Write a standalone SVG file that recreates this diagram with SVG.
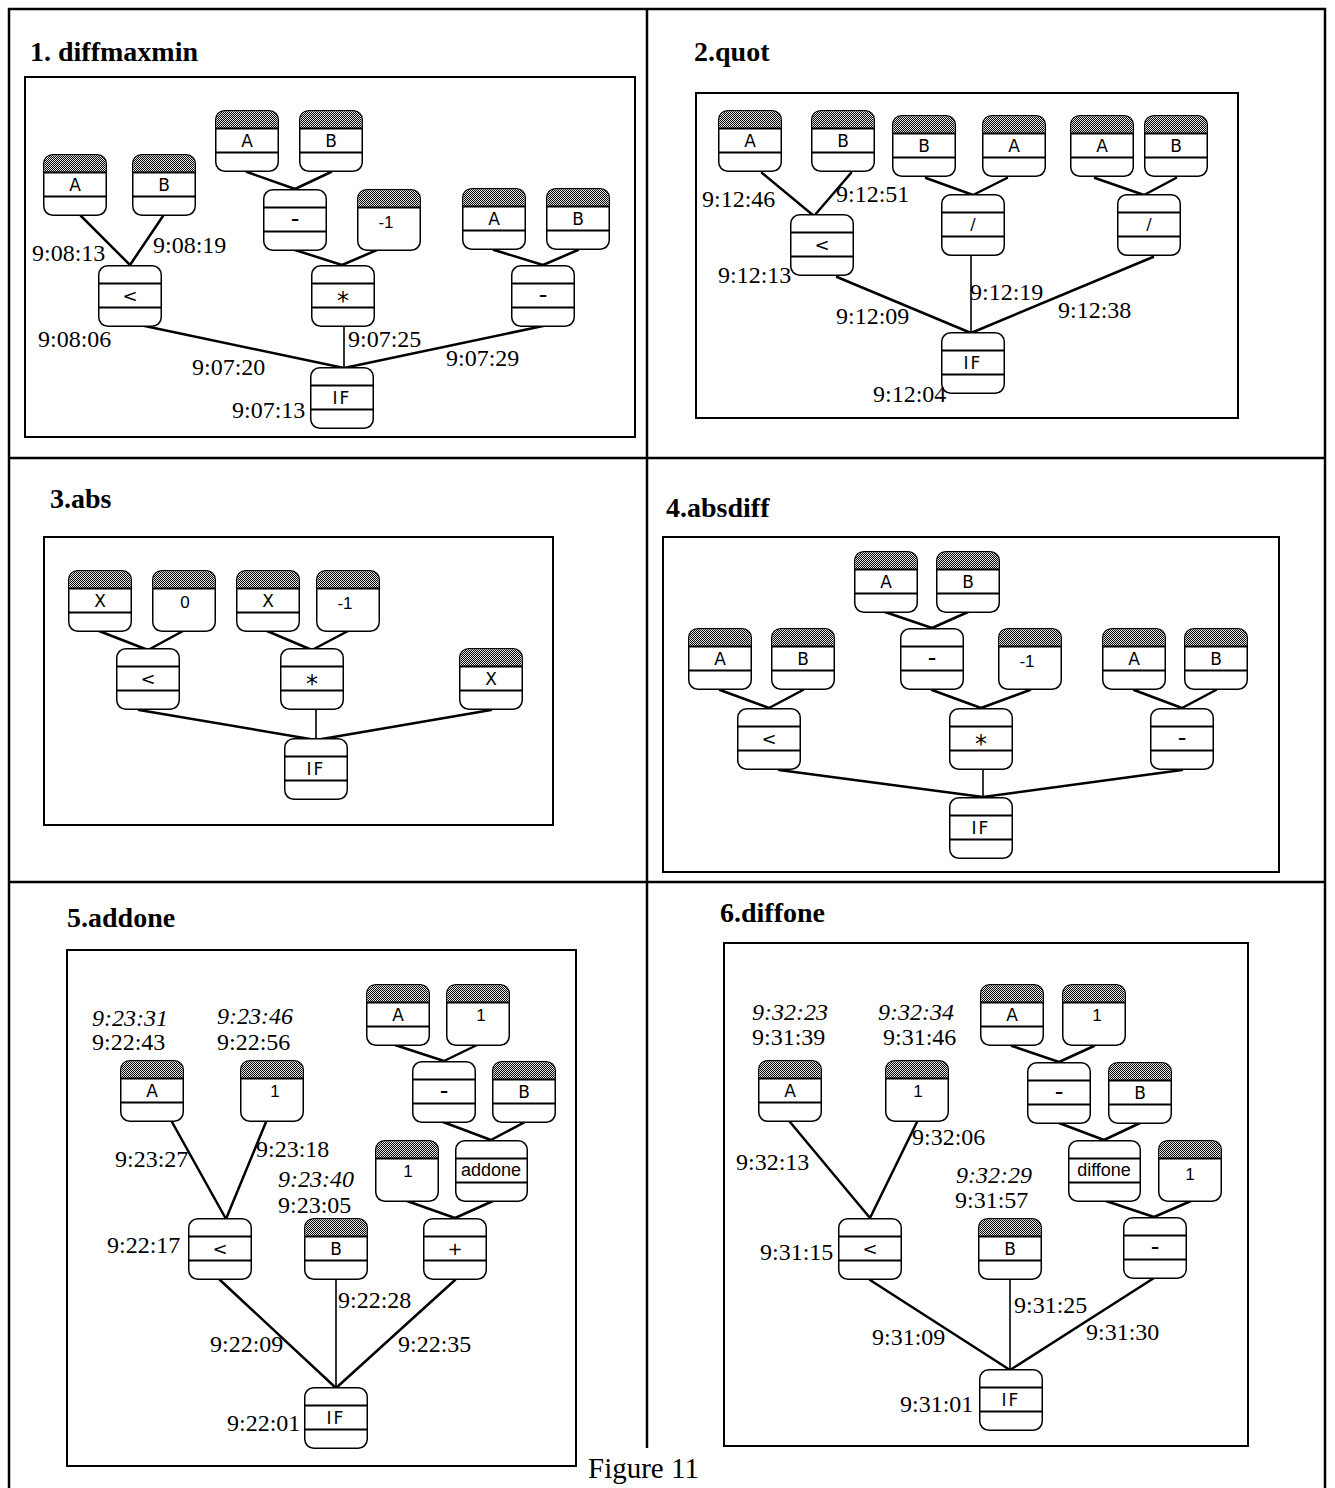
<svg xmlns="http://www.w3.org/2000/svg" xmlns:xlink="http://www.w3.org/1999/xlink" width="1335" height="1488" viewBox="0 0 1335 1488">
  <style>
    .rule { fill:none; stroke:#000; stroke-width:2.5; }
    .box { fill:none; stroke:#000; stroke-width:2; }
    .edge { fill:none; stroke:#000; stroke-width:2.5; stroke-linecap:round; }
    .edge.v { stroke-width:1.6; }
    .title { font-family:"Liberation Serif", serif; font-weight:bold; font-size:28px; }
    .t { font-family:"Liberation Serif", serif; font-size:24px; }
    .ti { font-family:"Liberation Serif", serif; font-size:24px; font-style:italic; }
    .cap { font-family:"Liberation Serif", serif; font-size:29px; }
    .lbl { font-family:"DejaVu Sans", sans-serif; font-size:17px; text-anchor:middle; }
    .sym-dash { font-size:24px; }
    .sym-mul { font-size:24px; }
    .sym-div { font-size:16px; }
    .sym-lt { font-size:18px; }
    .num { font-family:"Liberation Sans", sans-serif; font-size:17px; text-anchor:middle; }
    .word { font-family:"Liberation Sans", sans-serif; font-size:18px; text-anchor:middle; }
  </style>
  <defs>
    <pattern id="halftone" width="2" height="2" patternUnits="userSpaceOnUse">
      <rect width="2" height="2" fill="#e6e6e6"/>
      <rect width="1" height="1" fill="#000"/>
      <rect x="1" y="1" width="1" height="1" fill="#000"/>
    </pattern>
    <!-- variable terminal: shaded cap, label band -->
    <g id="var">
      <rect x="0.75" y="0.75" width="62.5" height="60.5" rx="9" fill="#fff" stroke="#000" stroke-width="1.5"/>
      <path d="M1.5,18 V9.5 Q1.5,1.5 9.5,1.5 H54.5 Q62.5,1.5 62.5,9.5 V18 Z" fill="url(#halftone)"/>
      <path d="M0.75,18.5 H63.25 M0.75,42.5 H63.25" stroke="#000" stroke-width="1.8"/>
    </g>
    <!-- constant terminal: shaded cap, open body -->
    <g id="const">
      <rect x="0.75" y="0.75" width="62.5" height="60.5" rx="9" fill="#fff" stroke="#000" stroke-width="1.5"/>
      <path d="M1.5,18 V9.5 Q1.5,1.5 9.5,1.5 H54.5 Q62.5,1.5 62.5,9.5 V18 Z" fill="url(#halftone)"/>
      <path d="M0.75,18.5 H63.25" stroke="#000" stroke-width="1.8"/>
    </g>
    <!-- function node: plain cap, label band -->
    <g id="op">
      <rect x="0.75" y="0.75" width="62.5" height="60.5" rx="9" fill="#fff" stroke="#000" stroke-width="1.5"/>
      <path d="M0.75,18.5 H63.25 M0.75,42.5 H63.25" stroke="#000" stroke-width="1.8"/>
    </g>
    <g id="op-wide">
      <rect x="0.75" y="0.75" width="71.5" height="60.5" rx="9" fill="#fff" stroke="#000" stroke-width="1.5"/>
      <path d="M0.75,18.5 H72.25 M0.75,42.5 H72.25" stroke="#000" stroke-width="1.8"/>
    </g>
  </defs>

  <rect width="1335" height="1488" fill="#fff"/>

  <!-- table rules -->
  <g id="table">
    <path class="rule" d="M9,1488 V9 H1325 V1488"/>
    <path class="rule" d="M9,458 H1325 M9,882 H1325 M647,9 V1448"/>
  </g>

  <!-- panel frames -->
  <g id="frames">
    <rect class="box" x="25" y="77" width="610" height="360"/>
    <rect class="box" x="696" y="93" width="542" height="325"/>
    <rect class="box" x="44" y="537" width="509" height="288"/>
    <rect class="box" x="663" y="537" width="616" height="335"/>
    <rect class="box" x="67" y="950" width="509" height="516"/>
    <rect class="box" x="724" y="943" width="524" height="503"/>
  </g>

  <!-- titles -->
  <g id="titles">
    <text class="title" x="30" y="61">1. diffmaxmin</text>
    <text class="title" x="694" y="61">2.quot</text>
    <text class="title" x="50" y="508">3.abs</text>
    <text class="title" x="666" y="517">4.absdiff</text>
    <text class="title" x="67" y="927">5.addone</text>
    <text class="title" x="720" y="922">6.diffone</text>
    <text class="cap" x="588" y="1478">Figure 11</text>
  </g>

  <!-- connectors -->
  <g id="connectors">
    <!-- 1 -->
    <path class="edge" d="M81,216 L130,265 M163,216 L130,265"/>
    <path class="edge" d="M247,172 L295,189 M331,172 L295,189"/>
    <path class="edge" d="M295,250 L342,265 M377,250 L342,265"/>
    <path class="edge" d="M494,250 L543,265 M578,250 L543,265"/>
    <path class="edge" d="M140,325 L344,368 M543,326 L344,368"/>
    <path class="edge v" d="M344,327 V368"/>
    <!-- 2 -->
    <path class="edge" d="M762,173 L814,216 M851,173 L814,216"/>
    <path class="edge" d="M926,178 L973,195 M1007,178 L973,195"/>
    <path class="edge" d="M1095,178 L1144,195 M1176,178 L1144,195"/>
    <path class="edge" d="M837,277 L971,333 M1153,257 L971,333"/>
    <path class="edge v" d="M971,256 V333"/>
    <!-- 3 -->
    <path class="edge" d="M99,631 L148,650 M183,631 L148,650"/>
    <path class="edge" d="M267,631 L312,650 M348,631 L312,650"/>
    <path class="edge" d="M139,710 L316,740 M491,710 L316,740"/>
    <path class="edge v" d="M316,710 V740"/>
    <!-- 4 -->
    <path class="edge" d="M885,612 L932,628 M968,612 L932,628"/>
    <path class="edge" d="M720,690 L769,708 M803,690 L769,708"/>
    <path class="edge" d="M932,690 L981,708 M1030,690 L981,708"/>
    <path class="edge" d="M1134,690 L1182,708 M1216,690 L1182,708"/>
    <path class="edge" d="M779,770 L983,797 M1182,770 L983,797"/>
    <path class="edge v" d="M983,770 V797"/>
    <!-- 5 -->
    <path class="edge" d="M395,1045 L444,1061 M477,1045 L444,1061"/>
    <path class="edge" d="M443,1122 L491,1140 M525,1122 L491,1140"/>
    <path class="edge" d="M407,1201 L455,1218 M493,1201 L455,1218"/>
    <path class="edge" d="M172,1122 L226,1219 M266,1122 L226,1219"/>
    <path class="edge" d="M220,1280 L336,1388 M455,1280 L336,1388"/>
    <path class="edge v" d="M336,1280 V1388"/>
    <!-- 6 -->
    <path class="edge" d="M1012,1046 L1059,1062 M1094,1046 L1059,1062"/>
    <path class="edge" d="M1059,1123 L1104,1140 M1140,1123 L1104,1140"/>
    <path class="edge" d="M1106,1201 L1154,1217 M1191,1201 L1154,1217"/>
    <path class="edge" d="M790,1122 L870,1218 M917,1122 L870,1218"/>
    <path class="edge" d="M870,1280 L1010,1370 M1154,1278 L1010,1370"/>
    <path class="edge v" d="M1010,1280 V1370"/>
  </g>

  <!-- panel 1: diffmaxmin -->
  <g id="n1-a1" transform="translate(43,154)"><use href="#var"/><text class="lbl" x="32" y="37">A</text></g>
  <g id="n1-b1" transform="translate(132,154)"><use href="#var"/><text class="lbl" x="32" y="37">B</text></g>
  <g id="n1-lt" transform="translate(98,265)"><use href="#op"/><text class="lbl sym-lt" x="32" y="37">&lt;</text></g>
  <g id="n1-a2" transform="translate(215,110)"><use href="#var"/><text class="lbl" x="32" y="37">A</text></g>
  <g id="n1-b2" transform="translate(299,110)"><use href="#var"/><text class="lbl" x="32" y="37">B</text></g>
  <g id="n1-sub1" transform="translate(263,189)"><use href="#op"/><text class="lbl sym-dash" x="32" y="38">-</text></g>
  <g id="n1-neg" transform="translate(357,189)"><use href="#const"/><text class="num" x="29" y="39">-1</text></g>
  <g id="n1-mul" transform="translate(311,265)"><use href="#op"/><text class="lbl sym-mul" x="32" y="44">*</text></g>
  <g id="n1-a3" transform="translate(462,188)"><use href="#var"/><text class="lbl" x="32" y="37">A</text></g>
  <g id="n1-b3" transform="translate(546,188)"><use href="#var"/><text class="lbl" x="32" y="37">B</text></g>
  <g id="n1-sub2" transform="translate(511,265)"><use href="#op"/><text class="lbl sym-dash" x="32" y="38">-</text></g>
  <g id="n1-if" transform="translate(310,367)"><use href="#op"/><text class="lbl" x="32" y="37" letter-spacing="2">IF</text></g>
  <g id="times-1">
    <text class="t" x="32" y="261">9:08:13</text>
    <text class="t" x="153" y="253">9:08:19</text>
    <text class="t" x="38" y="347">9:08:06</text>
    <text class="t" x="192" y="375">9:07:20</text>
    <text class="t" x="348" y="347">9:07:25</text>
    <text class="t" x="446" y="366">9:07:29</text>
    <text class="t" x="232" y="418">9:07:13</text>
  </g>

  <!-- panel 2: quot -->
  <g id="n2-a1" transform="translate(718,110)"><use href="#var"/><text class="lbl" x="32" y="37">A</text></g>
  <g id="n2-b1" transform="translate(811,110)"><use href="#var"/><text class="lbl" x="32" y="37">B</text></g>
  <g id="n2-lt" transform="translate(790,214)"><use href="#op"/><text class="lbl sym-lt" x="32" y="37">&lt;</text></g>
  <g id="n2-b2" transform="translate(892,115)"><use href="#var"/><text class="lbl" x="32" y="37">B</text></g>
  <g id="n2-a2" transform="translate(982,115)"><use href="#var"/><text class="lbl" x="32" y="37">A</text></g>
  <g id="n2-div1" transform="translate(941,194)"><use href="#op"/><text class="lbl sym-div" x="32" y="36">/</text></g>
  <g id="n2-a3" transform="translate(1070,115)"><use href="#var"/><text class="lbl" x="32" y="37">A</text></g>
  <g id="n2-b3" transform="translate(1144,115)"><use href="#var"/><text class="lbl" x="32" y="37">B</text></g>
  <g id="n2-div2" transform="translate(1117,194)"><use href="#op"/><text class="lbl sym-div" x="32" y="36">/</text></g>
  <g id="n2-if" transform="translate(941,332)"><use href="#op"/><text class="lbl" x="32" y="37" letter-spacing="2">IF</text></g>
  <g id="times-2">
    <text class="t" x="702" y="207">9:12:46</text>
    <text class="t" x="836" y="202">9:12:51</text>
    <text class="t" x="718" y="283">9:12:13</text>
    <text class="t" x="836" y="324">9:12:09</text>
    <text class="t" x="970" y="300">9:12:19</text>
    <text class="t" x="1058" y="318">9:12:38</text>
    <text class="t" x="873" y="402">9:12:04</text>
  </g>

  <!-- panel 3: abs -->
  <g id="n3-x1" transform="translate(68,570)"><use href="#var"/><text class="lbl" x="32" y="37">X</text></g>
  <g id="n3-zero" transform="translate(152,570)"><use href="#const"/><text class="num" x="33" y="38">0</text></g>
  <g id="n3-x2" transform="translate(236,570)"><use href="#var"/><text class="lbl" x="32" y="37">X</text></g>
  <g id="n3-neg" transform="translate(316,570)"><use href="#const"/><text class="num" x="29" y="39">-1</text></g>
  <g id="n3-lt" transform="translate(116,648)"><use href="#op"/><text class="lbl sym-lt" x="32" y="37">&lt;</text></g>
  <g id="n3-mul" transform="translate(280,648)"><use href="#op"/><text class="lbl sym-mul" x="32" y="44">*</text></g>
  <g id="n3-x3" transform="translate(459,648)"><use href="#var"/><text class="lbl" x="32" y="37">X</text></g>
  <g id="n3-if" transform="translate(284,738)"><use href="#op"/><text class="lbl" x="32" y="37" letter-spacing="2">IF</text></g>

  <!-- panel 4: absdiff -->
  <g id="n4-a1" transform="translate(854,551)"><use href="#var"/><text class="lbl" x="32" y="37">A</text></g>
  <g id="n4-b1" transform="translate(936,551)"><use href="#var"/><text class="lbl" x="32" y="37">B</text></g>
  <g id="n4-sub1" transform="translate(900,628)"><use href="#op"/><text class="lbl sym-dash" x="32" y="38">-</text></g>
  <g id="n4-neg" transform="translate(998,628)"><use href="#const"/><text class="num" x="29" y="39">-1</text></g>
  <g id="n4-a2" transform="translate(688,628)"><use href="#var"/><text class="lbl" x="32" y="37">A</text></g>
  <g id="n4-b2" transform="translate(771,628)"><use href="#var"/><text class="lbl" x="32" y="37">B</text></g>
  <g id="n4-a3" transform="translate(1102,628)"><use href="#var"/><text class="lbl" x="32" y="37">A</text></g>
  <g id="n4-b3" transform="translate(1184,628)"><use href="#var"/><text class="lbl" x="32" y="37">B</text></g>
  <g id="n4-lt" transform="translate(737,708)"><use href="#op"/><text class="lbl sym-lt" x="32" y="37">&lt;</text></g>
  <g id="n4-mul" transform="translate(949,708)"><use href="#op"/><text class="lbl sym-mul" x="32" y="44">*</text></g>
  <g id="n4-sub2" transform="translate(1150,708)"><use href="#op"/><text class="lbl sym-dash" x="32" y="38">-</text></g>
  <g id="n4-if" transform="translate(949,797)"><use href="#op"/><text class="lbl" x="32" y="37" letter-spacing="2">IF</text></g>

  <!-- panel 5: addone -->
  <g id="n5-a1" transform="translate(366,984)"><use href="#var"/><text class="lbl" x="32" y="37">A</text></g>
  <g id="n5-one1" transform="translate(446,984)"><use href="#const"/><text class="num" x="35" y="37">1</text></g>
  <g id="n5-sub" transform="translate(412,1061)"><use href="#op"/><text class="lbl sym-dash" x="32" y="38">-</text></g>
  <g id="n5-b1" transform="translate(492,1061)"><use href="#var"/><text class="lbl" x="32" y="37">B</text></g>
  <g id="n5-one2" transform="translate(375,1140)"><use href="#const"/><text class="num" x="33" y="37">1</text></g>
  <g id="n5-call" transform="translate(455,1140)"><use href="#op-wide"/><text class="word" x="36" y="36">addone</text></g>
  <g id="n5-add" transform="translate(423,1218)"><use href="#op"/><text class="lbl sym-lt" x="32" y="37">+</text></g>
  <g id="n5-a2" transform="translate(120,1060)"><use href="#var"/><text class="lbl" x="32" y="37">A</text></g>
  <g id="n5-one3" transform="translate(240,1060)"><use href="#const"/><text class="num" x="35" y="37">1</text></g>
  <g id="n5-lt" transform="translate(188,1218)"><use href="#op"/><text class="lbl sym-lt" x="32" y="37">&lt;</text></g>
  <g id="n5-b2" transform="translate(304,1218)"><use href="#var"/><text class="lbl" x="32" y="37">B</text></g>
  <g id="n5-if" transform="translate(304,1387)"><use href="#op"/><text class="lbl" x="32" y="37" letter-spacing="2">IF</text></g>
  <g id="times-5">
    <text class="ti" x="92" y="1026">9:23:31</text>
    <text class="t" x="92" y="1050">9:22:43</text>
    <text class="ti" x="217" y="1024">9:23:46</text>
    <text class="t" x="217" y="1050">9:22:56</text>
    <text class="t" x="115" y="1167">9:23:27</text>
    <text class="t" x="256" y="1157">9:23:18</text>
    <text class="ti" x="278" y="1187">9:23:40</text>
    <text class="t" x="278" y="1213">9:23:05</text>
    <text class="t" x="107" y="1253">9:22:17</text>
    <text class="t" x="338" y="1308">9:22:28</text>
    <text class="t" x="210" y="1352">9:22:09</text>
    <text class="t" x="398" y="1352">9:22:35</text>
    <text class="t" x="227" y="1431">9:22:01</text>
  </g>

  <!-- panel 6: diffone -->
  <g id="n6-a1" transform="translate(980,984)"><use href="#var"/><text class="lbl" x="32" y="37">A</text></g>
  <g id="n6-one1" transform="translate(1062,984)"><use href="#const"/><text class="num" x="35" y="37">1</text></g>
  <g id="n6-sub1" transform="translate(1027,1062)"><use href="#op"/><text class="lbl sym-dash" x="32" y="38">-</text></g>
  <g id="n6-b1" transform="translate(1108,1062)"><use href="#var"/><text class="lbl" x="32" y="37">B</text></g>
  <g id="n6-call" transform="translate(1068,1140)"><use href="#op-wide"/><text class="word" x="36" y="36">diffone</text></g>
  <g id="n6-one2" transform="translate(1158,1140)"><use href="#const"/><text class="num" x="32" y="40">1</text></g>
  <g id="n6-sub2" transform="translate(1123,1217)"><use href="#op"/><text class="lbl sym-dash" x="32" y="38">-</text></g>
  <g id="n6-a2" transform="translate(758,1060)"><use href="#var"/><text class="lbl" x="32" y="37">A</text></g>
  <g id="n6-one3" transform="translate(885,1060)"><use href="#const"/><text class="num" x="33" y="37">1</text></g>
  <g id="n6-lt" transform="translate(838,1218)"><use href="#op"/><text class="lbl sym-lt" x="32" y="37">&lt;</text></g>
  <g id="n6-b2" transform="translate(978,1218)"><use href="#var"/><text class="lbl" x="32" y="37">B</text></g>
  <g id="n6-if" transform="translate(979,1369)"><use href="#op"/><text class="lbl" x="32" y="37" letter-spacing="2">IF</text></g>
  <g id="times-6">
    <text class="ti" x="752" y="1020">9:32:23</text>
    <text class="t" x="752" y="1045">9:31:39</text>
    <text class="ti" x="878" y="1020">9:32:34</text>
    <text class="t" x="883" y="1045">9:31:46</text>
    <text class="t" x="736" y="1170">9:32:13</text>
    <text class="t" x="912" y="1145">9:32:06</text>
    <text class="ti" x="956" y="1183">9:32:29</text>
    <text class="t" x="955" y="1208">9:31:57</text>
    <text class="t" x="760" y="1260">9:31:15</text>
    <text class="t" x="1014" y="1313">9:31:25</text>
    <text class="t" x="872" y="1345">9:31:09</text>
    <text class="t" x="1086" y="1340">9:31:30</text>
    <text class="t" x="900" y="1412">9:31:01</text>
  </g>
</svg>
